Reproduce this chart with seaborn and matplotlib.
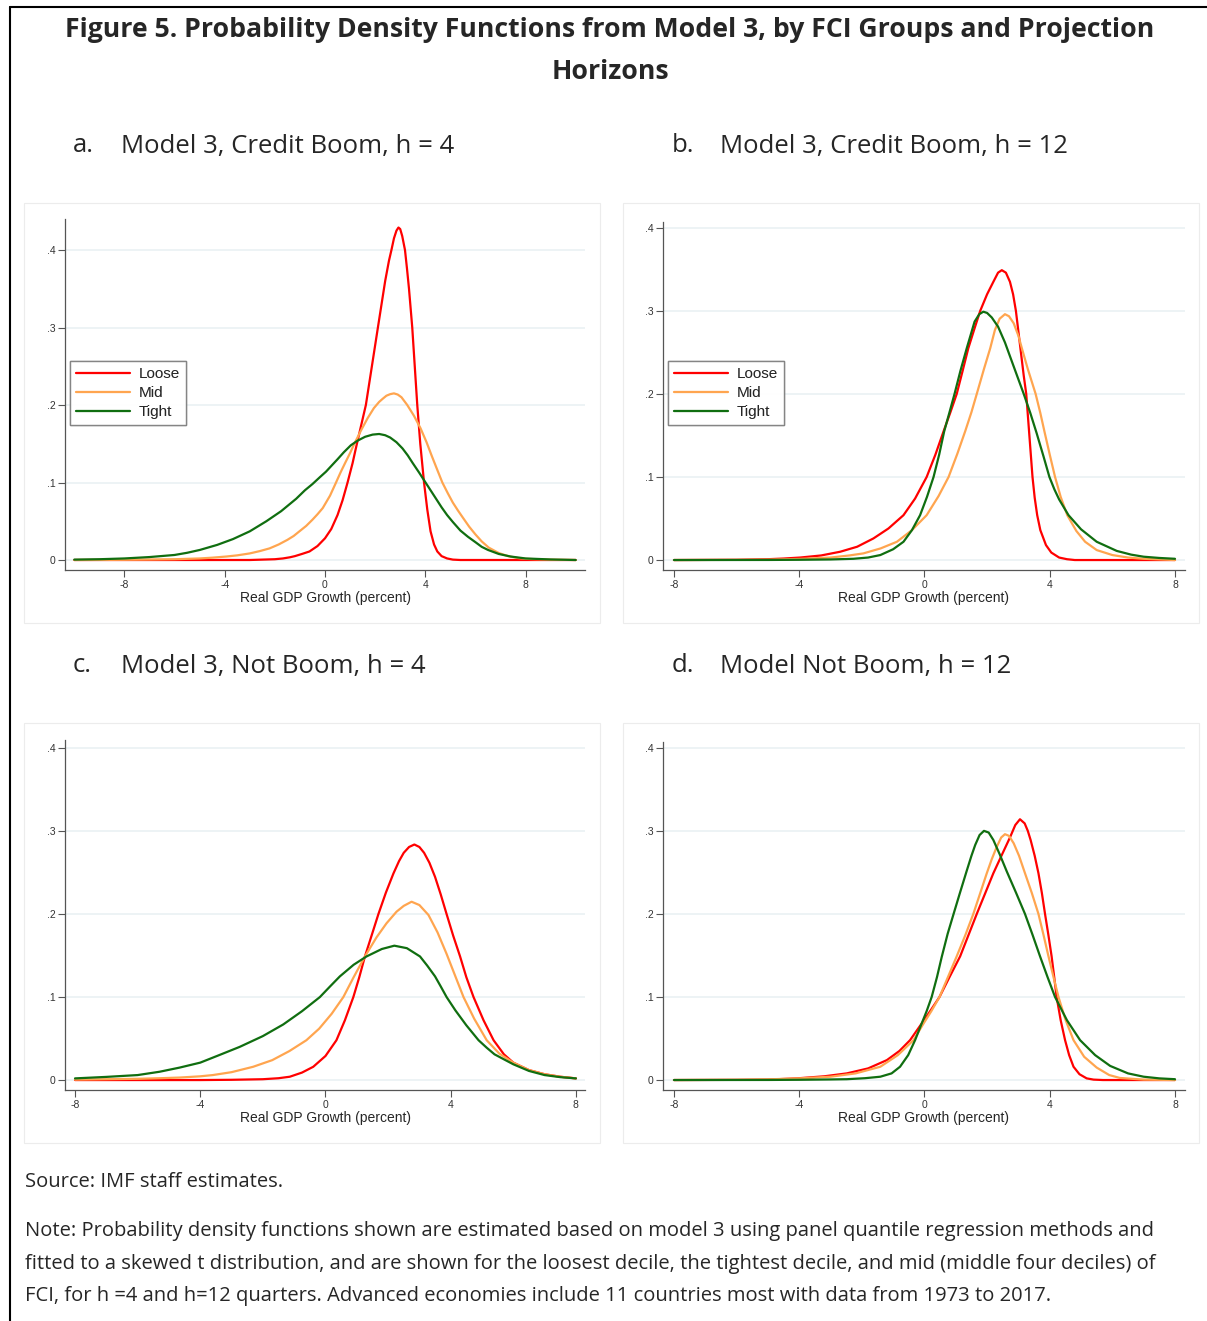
import pandas as pd
import matplotlib
matplotlib.use("Agg")
import matplotlib.pyplot as plt
from matplotlib.patches import Rectangle
from matplotlib.lines import Line2D
import seaborn as sns

# Density curves, as (growth, density) pairs
a_loose = [(-10, 0), (-3, 0), (-2.5, 0.0005), (-2, 0.001), (-1.68, 0.002), (-1.4, 0.0035), (-1.2, 0.005),
           (-0.9, 0.008), (-0.62, 0.011), (-0.3, 0.018), (0, 0.028), (0.25, 0.04), (0.5, 0.058), (0.7, 0.077),
           (0.9, 0.1), (1.1, 0.125), (1.23, 0.144), (1.43, 0.172), (1.63, 0.2), (1.87, 0.25), (2.11, 0.3),
           (2.4, 0.36), (2.55, 0.386), (2.65, 0.4), (2.75, 0.415), (2.85, 0.425), (2.93, 0.429), (3.0, 0.427),
           (3.08, 0.418), (3.19, 0.4), (3.27, 0.376), (3.35, 0.35), (3.48, 0.3), (3.58, 0.25), (3.68, 0.2),
           (3.8, 0.15), (3.95, 0.1), (4.08, 0.065), (4.21, 0.037), (4.35, 0.02), (4.48, 0.011), (4.65, 0.005),
           (4.87, 0.002), (5.1, 0.0005), (5.4, 0), (10, 0)]
a_mid = [(-10, 0), (-8, 0.0003), (-7, 0.0006), (-6, 0.001), (-5, 0.002), (-4.5, 0.003), (-3.93, 0.0045),
         (-3.5, 0.006), (-3, 0.0085), (-2.6, 0.0115), (-2.21, 0.015), (-1.85, 0.02), (-1.5, 0.026),
         (-1.25, 0.031), (-1.02, 0.037), (-0.75, 0.044), (-0.5, 0.052), (-0.3, 0.059), (-0.09, 0.067),
         (0.2, 0.083), (0.44, 0.1), (0.62, 0.113), (0.8, 0.125), (1.0, 0.138), (1.17, 0.15), (1.45, 0.168),
         (1.7, 0.183), (1.95, 0.196), (2.16, 0.204), (2.3, 0.208), (2.45, 0.212), (2.6, 0.214), (2.75, 0.215),
         (2.9, 0.2135), (3.05, 0.21), (3.28, 0.2), (3.55, 0.186), (3.81, 0.17), (4.05, 0.152), (4.25, 0.135),
         (4.47, 0.117), (4.68, 0.1), (4.9, 0.086), (5.1, 0.074), (5.3, 0.064), (5.47, 0.056), (5.75, 0.043),
         (6.0, 0.033), (6.25, 0.024), (6.53, 0.016), (6.93, 0.009), (7.3, 0.005), (7.7, 0.0025), (8, 0.0015),
         (9, 0.0004), (10, 0)]
a_tight = [(-10, 0.0005), (-9, 0.001), (-8, 0.002), (-7, 0.0038), (-6, 0.0065), (-5.5, 0.0093), (-4.99, 0.013),
           (-4.3, 0.0195), (-3.67, 0.027), (-3, 0.037), (-2.34, 0.05), (-1.75, 0.063), (-1.15, 0.079),
           (-0.8, 0.09), (-0.5, 0.098), (-0.2, 0.107), (0.04, 0.114), (0.5, 0.13), (0.75, 0.139), (1.03, 0.148),
           (1.3, 0.154), (1.6, 0.159), (1.9, 0.1618), (2.16, 0.1626), (2.4, 0.161), (2.6, 0.158), (2.85, 0.152),
           (3.09, 0.144), (3.3, 0.135), (3.5, 0.125), (3.75, 0.113), (4.01, 0.1), (4.23, 0.089), (4.45, 0.078),
           (4.65, 0.068), (4.87, 0.058), (5.1, 0.049), (5.4, 0.038), (5.7, 0.03), (6.0, 0.023), (6.25, 0.017),
           (6.5, 0.013), (6.93, 0.0078), (7.4, 0.0045), (8, 0.002), (9, 0.0007), (10, 0)]

b_loose = [(-8, 0), (-6, 0.0003), (-5, 0.001), (-4.5, 0.0018), (-3.97, 0.003), (-3.3, 0.0055), (-2.69, 0.01),
           (-2.15, 0.016), (-1.63, 0.026), (-1.15, 0.038), (-0.67, 0.054), (-0.3, 0.074), (0.07, 0.1),
           (0.35, 0.127), (0.61, 0.155), (0.82, 0.177), (1.03, 0.2), (1.22, 0.228), (1.4, 0.255), (1.6, 0.279),
           (1.78, 0.3), (2.0, 0.32), (2.2, 0.335), (2.35, 0.346), (2.47, 0.349), (2.6, 0.346), (2.73, 0.335),
           (2.83, 0.32), (2.92, 0.3), (3.0, 0.275), (3.08, 0.25), (3.17, 0.222), (3.25, 0.2), (3.35, 0.15),
           (3.45, 0.1), (3.52, 0.075), (3.6, 0.054), (3.7, 0.036), (3.88, 0.018), (4.05, 0.009), (4.3, 0.003),
           (4.55, 0.001), (4.8, 0), (8, 0)]
b_mid = [(-8, 0), (-6, 0.0002), (-5, 0.0005), (-4, 0.0013), (-3.0, 0.003), (-2.4, 0.0055), (-1.95, 0.008),
         (-1.4, 0.014), (-0.88, 0.022), (-0.4, 0.036), (0.07, 0.054), (0.45, 0.077), (0.77, 0.1), (1.05, 0.128),
         (1.3, 0.155), (1.5, 0.178), (1.67, 0.2), (1.9, 0.23), (2.1, 0.255), (2.25, 0.277), (2.4, 0.2905),
         (2.57, 0.296), (2.7, 0.2935), (2.85, 0.285), (3.0, 0.27), (3.11, 0.255), (3.3, 0.23), (3.55, 0.2),
         (3.7, 0.177), (3.83, 0.155), (4.0, 0.127), (4.17, 0.1), (4.35, 0.076), (4.56, 0.054), (4.85, 0.035),
         (5.13, 0.022), (5.5, 0.012), (6.0, 0.006), (6.5, 0.003), (7, 0.0015), (8, 0)]
b_tight = [(-8, 0), (-5, 0.0001), (-4, 0.0003), (-3, 0.0007), (-2.27, 0.0015), (-1.8, 0.003), (-1.41, 0.006),
           (-1.0, 0.013), (-0.67, 0.022), (-0.4, 0.036), (-0.14, 0.054), (0.08, 0.076), (0.29, 0.1),
           (0.47, 0.127), (0.63, 0.155), (0.8, 0.178), (0.96, 0.2), (1.15, 0.228), (1.35, 0.255), (1.6, 0.287),
           (1.75, 0.296), (1.88, 0.299), (2.0, 0.2975), (2.15, 0.292), (2.35, 0.281), (2.57, 0.262),
           (2.85, 0.233), (3.17, 0.2), (3.38, 0.177), (3.58, 0.153), (3.8, 0.125), (3.99, 0.1), (4.15, 0.085),
           (4.3, 0.073), (4.6, 0.054), (5.0, 0.037), (5.5, 0.022), (6.14, 0.011), (6.6, 0.0065), (7, 0.004),
           (7.5, 0.0025), (8, 0.0015)]

c_loose = [(-8, 0), (-4, 0), (-3, 0.0003), (-2.0, 0.001), (-1.5, 0.0022), (-1.14, 0.004), (-0.75, 0.009),
           (-0.39, 0.016), (0, 0.029), (0.35, 0.048), (0.62, 0.072), (0.89, 0.1), (1.08, 0.124), (1.26, 0.149),
           (1.48, 0.175), (1.69, 0.2), (1.93, 0.226), (2.17, 0.249), (2.35, 0.264), (2.5, 0.274), (2.67, 0.281),
           (2.84, 0.284), (3.0, 0.281), (3.15, 0.274), (3.32, 0.262), (3.5, 0.245), (3.68, 0.224), (3.87, 0.2),
           (4.08, 0.174), (4.3, 0.149), (4.5, 0.124), (4.73, 0.1), (5.05, 0.072), (5.37, 0.048), (5.7, 0.031),
           (6.0, 0.021), (6.5, 0.012), (7, 0.007), (7.5, 0.004), (8, 0.002)]
c_mid = [(-8, 0.0005), (-7, 0.001), (-6, 0.0015), (-5.3, 0.0022), (-4.66, 0.003), (-4, 0.0045), (-3.6, 0.006),
         (-3, 0.0095), (-2.31, 0.016), (-1.7, 0.024), (-1.15, 0.035), (-0.61, 0.048), (-0.2, 0.062), (0.2, 0.08),
         (0.57, 0.1), (0.9, 0.124), (1.26, 0.149), (1.63, 0.172), (1.95, 0.189), (2.27, 0.203), (2.5, 0.21),
         (2.75, 0.215), (3.0, 0.211), (3.29, 0.199), (3.58, 0.178), (3.87, 0.152), (4.15, 0.125), (4.41, 0.1),
         (4.75, 0.074), (5.15, 0.048), (5.55, 0.032), (6.0, 0.021), (6.5, 0.012), (7, 0.007), (7.5, 0.004),
         (8, 0.002)]
c_tight = [(-8, 0.002), (-7, 0.0038), (-6, 0.006), (-5.3, 0.01), (-4.66, 0.015), (-4, 0.021), (-3.4, 0.03),
           (-2.74, 0.04), (-2.0, 0.053), (-1.35, 0.067), (-0.75, 0.083), (-0.18, 0.1), (0.15, 0.113),
           (0.46, 0.125), (0.9, 0.139), (1.31, 0.149), (1.8, 0.158), (2.2, 0.162), (2.6, 0.159), (3.02, 0.149),
           (3.25, 0.138), (3.5, 0.125), (3.68, 0.113), (3.87, 0.1), (4.15, 0.084), (4.5, 0.066), (4.89, 0.048),
           (5.15, 0.039), (5.4, 0.031), (5.7, 0.025), (6.0, 0.019), (6.5, 0.011), (7, 0.006), (7.5, 0.0035),
           (8, 0.002)]

d_loose = [(-8, 0), (-6, 0.0002), (-5, 0.0005), (-4.07, 0.002), (-3.2, 0.0045), (-2.48, 0.008), (-1.8, 0.014),
           (-1.2, 0.024), (-0.8, 0.035), (-0.46, 0.048), (-0.09, 0.068), (0.2, 0.084), (0.48, 0.1), (0.8, 0.124),
           (1.14, 0.149), (1.4, 0.174), (1.67, 0.2), (1.93, 0.224), (2.2, 0.249), (2.47, 0.271), (2.73, 0.292),
           (2.9, 0.307), (3.05, 0.314), (3.2, 0.309), (3.3, 0.3), (3.39, 0.289), (3.52, 0.27), (3.64, 0.249),
           (3.75, 0.225), (3.85, 0.2), (3.96, 0.174), (4.06, 0.149), (4.14, 0.125), (4.22, 0.1), (4.35, 0.072),
           (4.49, 0.048), (4.62, 0.03), (4.76, 0.016), (4.95, 0.007), (5.18, 0.002), (5.4, 0.0005), (5.7, 0),
           (8, 0)]
d_mid = [(-8, 0), (-6, 0.0003), (-5, 0.0008), (-4, 0.002), (-3.0, 0.004), (-2.2, 0.008), (-1.41, 0.016),
         (-0.85, 0.03), (-0.35, 0.048), (-0.03, 0.068), (0.22, 0.083), (0.48, 0.1), (0.75, 0.124), (1.03, 0.149),
         (1.3, 0.174), (1.56, 0.2), (1.78, 0.225), (1.99, 0.249), (2.15, 0.266), (2.3, 0.28), (2.45, 0.292),
         (2.57, 0.296), (2.7, 0.294), (2.85, 0.285), (3.02, 0.27), (3.21, 0.249), (3.43, 0.225), (3.64, 0.2),
         (3.8, 0.175), (3.96, 0.149), (4.12, 0.124), (4.28, 0.1), (4.5, 0.073), (4.76, 0.048), (5.1, 0.028),
         (5.5, 0.015), (5.9, 0.006), (6.24, 0.0025), (7, 0.0005), (8, 0)]
d_tight = [(-8, 0), (-5, 0.0001), (-4, 0.0003), (-3, 0.0007), (-2.48, 0.001), (-1.9, 0.0022), (-1.41, 0.004),
           (-1.05, 0.008), (-0.78, 0.016), (-0.52, 0.03), (-0.3, 0.048), (-0.09, 0.068), (0.07, 0.083),
           (0.23, 0.1), (0.4, 0.124), (0.55, 0.148), (0.74, 0.176), (0.93, 0.2), (1.13, 0.225), (1.35, 0.252),
           (1.5, 0.27), (1.62, 0.283), (1.76, 0.295), (1.9, 0.3), (2.05, 0.298), (2.2, 0.289), (2.4, 0.272),
           (2.63, 0.251), (2.93, 0.225), (3.21, 0.2), (3.45, 0.175), (3.69, 0.149), (3.93, 0.124), (4.17, 0.1),
           (4.55, 0.072), (4.97, 0.048), (5.45, 0.03), (5.93, 0.017), (6.5, 0.008), (7, 0.004), (7.5, 0.002),
           (8, 0.001)]

groups = ["Loose", "Mid", "Tight"]
colors = {"Loose": "#ff0000", "Mid": "#ffa54f", "Tight": "#106e10"}
x_ticks = [-8, -4, 0, 4, 8]
y_ticks = [0, 0.1, 0.2, 0.3, 0.4]
y_ticklabels = ["0", ".1", ".2", ".3", ".4"]

panel_letters = ["a.", "b.", "c.", "d."]
panel_titles = ["Model 3, Credit Boom, h = 4", "Model 3, Credit Boom, h = 12",
                "Model 3, Not Boom, h = 4", "Model Not Boom, h = 12"]
panel_data = [(a_loose, a_mid, a_tight), (b_loose, b_mid, b_tight),
              (c_loose, c_mid, c_tight), (d_loose, d_mid, d_tight)]

title = "Figure 5. Probability Density Functions from Model 3, by FCI Groups and Projection"
source = "Source: IMF staff estimates."
note = ["Note: Probability density functions shown are estimated based on model 3 using panel quantile regression methods and",
        "fitted to a skewed t distribution, and are shown for the loosest decile, the tightest decile, and mid (middle four deciles) of",
        "FCI, for h =4 and h=12 quarters. Advanced economies include 11 countries most with data from 1973 to 2017."]

sns.set_theme(style="white")
plt.rcParams["font.family"] = ["Open Sans", "DejaVu Sans"]

W, H = 1207, 1321
fig = plt.figure(figsize=(W / 100, H / 100), dpi=100)
fig.patch.set_facecolor("white")


def fx(px):
    return px / W


def fy(py):
    return 1 - py / H


# figure frame: top and left rule
fig.add_artist(Line2D([fx(10), 1], [fy(7), fy(7)], color="black", lw=1.5))
fig.add_artist(Line2D([fx(10), fx(10)], [fy(7), 0], color="black", lw=1.5))

fig.text(fx(610), fy(30), title, ha="center", va="center", fontsize=19.2, fontweight="bold")
fig.text(fx(610), fy(72), "Horizons", ha="center", va="center", fontsize=19.2, fontweight="bold")

# pixel layout: (box left, box top, axes left, axes top, axes right, axes bottom, xlim, ylim)
layout = [
    (24, 203, 65, 219, 585, 570, (-10.37, 10.37), (-0.0129, 0.44)),
    (623, 203, 663, 222, 1185, 570, (-8.35, 8.32), (-0.012, 0.407)),
    (24, 723, 65, 740, 585, 1090, (-8.32, 8.29), (-0.012, 0.41)),
    (623, 723, 663, 742, 1185, 1090, (-8.35, 8.32), (-0.012, 0.407)),
]
head_y = [146, 146, 666, 666]

for i, (lo, mi, ti) in enumerate(panel_data):
    bx, by, l, t, r, b, xl, yl = layout[i]
    fig.add_artist(Rectangle((fx(bx), fy(by + 420)), 576 / W, 420 / H, transform=fig.transFigure,
                             facecolor="none", edgecolor="#ececec", lw=0.8))
    fig.text(fx(bx + 49), fy(head_y[i]), panel_letters[i], ha="left", va="center", fontsize=18.5)
    fig.text(fx(bx + 97), fy(head_y[i]), panel_titles[i], ha="left", va="center", fontsize=18.5)

    rows = []
    for g, pts in zip(groups, (lo, mi, ti)):
        for xv, yv in pts:
            rows.append({"growth": xv, "density": yv, "group": g})
    df = pd.DataFrame(rows)

    ax = fig.add_axes([fx(l), fy(b), (r - l) / W, (b - t) / H])
    ax.set_facecolor("white")
    for yv in y_ticks:
        ax.axhline(yv, color="#eaf1f3", lw=1.2, zorder=0)
    sns.lineplot(data=df, x="growth", y="density", hue="group", palette=colors,
                 estimator=None, sort=False, lw=1.6, ax=ax)
    ax.set_xlim(*xl)
    ax.set_ylim(*yl)
    ax.set_xticks(x_ticks)
    ax.set_xticklabels([str(v) for v in x_ticks], fontsize=7.5, family="Liberation Sans", color="#333333")
    ax.set_yticks(y_ticks)
    ax.set_yticklabels(y_ticklabels, fontsize=7.5, family="Liberation Sans", color="#333333")
    ax.tick_params(axis="both", length=5, width=0.8, color="#555555", pad=2, bottom=True, left=True)
    ax.set_xlabel("Real GDP Growth (percent)", fontsize=10, family="Liberation Sans", labelpad=1)
    ax.set_ylabel("")
    for s in ["top", "right"]:
        ax.spines[s].set_visible(False)
    for s in ["left", "bottom"]:
        ax.spines[s].set_color("#555555")
        ax.spines[s].set_linewidth(0.9)

    handles = [Line2D([0], [0], color=colors[g], lw=1.6) for g in groups]
    ax.legend(handles, groups, loc="upper left", bbox_to_anchor=(5 / (r - l), (b - 361) / (b - t)),
              borderaxespad=0, frameon=True, fancybox=False, edgecolor="#777777",
              prop={"family": "Liberation Sans", "size": 11}, handlelength=3.5,
              handletextpad=0.6, labelspacing=0.32, borderpad=0.4)
    ax.get_legend().get_frame().set_linewidth(1.0)

fig.text(fx(25), fy(1182), source, ha="left", va="center", fontsize=14.5)
for k, line in enumerate(note):
    fig.text(fx(25), fy(1231 + 32.5 * k), line, ha="left", va="center", fontsize=14.5)

fig.savefig("out.png", dpi=100, facecolor="white")
